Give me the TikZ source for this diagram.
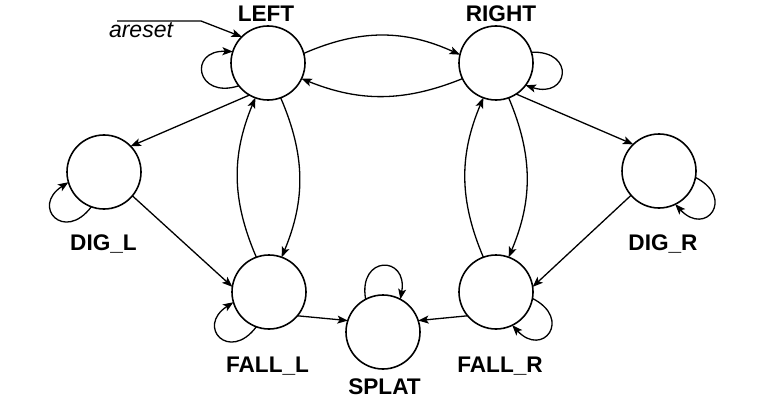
\documentclass[tikz,border=0pt]{standalone}
\usepackage{fontspec}
\setmainfont{Liberation Sans}
\usepackage{tikz}
\usetikzlibrary{arrows.meta}
\tikzset{
  fsmstate/.style={
    draw, circle, line width=0.8pt, minimum size=37pt,
    inner sep=0pt, outer sep=0pt
  },
  fsmarrow/.style={
    -{Stealth[length=5.2pt, width=4pt, inset=1.2pt]}, line width=0.65pt
  },
  fsmlabel/.style={
    font=\fontsize{11.3}{13}\selectfont\bfseries, anchor=base
  },
  fsminput/.style={
    font=\fontsize{11.5}{13}\selectfont\itshape, anchor=base
  },
}

\begin{document}
\begin{tikzpicture}[x=0.5pt, y=0.5pt]
  \useasboundingbox (0,0) rectangle (763,402);

  % ── States ──
  \node[fsmstate] (sLeft)  at (268,339) {};
  \node[fsmstate] (sRight) at (496,339) {};
  \node[fsmstate] (sDigL)  at (104,230) {};
  \node[fsmstate] (sDigR)  at (659,231) {};
  \node[fsmstate] (sFallL) at (269,110) {};
  \node[fsmstate] (sFallR) at (496,110) {};
  \node[fsmstate] (sSplat) at (383,70)  {};

  % ── State names ──
  \node[fsmlabel] (lLeft)  at (266,380)   {LEFT};
  \node[fsmlabel] (lRight) at (501,380)   {RIGHT};
  \node[fsmlabel] (lDigL)  at (103.5,152) {DIG\_L};
  \node[fsmlabel] (lDigR)  at (663,152)   {DIG\_R};
  \node[fsmlabel] (lFallL) at (267.5,30)  {FALL\_L};
  \node[fsmlabel] (lFallR) at (500,30)    {FALL\_R};
  \node[fsmlabel] (lSplat) at (384.5,8)   {SPLAT};

  % ── Reset input ──
  \node[fsminput] (rsText) at (141,364) {areset};
  \coordinate (rsStart) at (117,381);
  \coordinate (rsBend)  at (201,381);
  \draw[fsmarrow] (rsStart) -- (rsBend) -- (sLeft.135);

  % ── Self loops ──
  \draw[fsmarrow] (sLeft.-142)  .. controls +(-162:45) and +(178:45) .. (sLeft.162);
  \draw[fsmarrow] (sRight.17)   .. controls +(2:45)    and +(-18:45) .. (sRight.-37);
  \draw[fsmarrow] (sDigL.-110)  .. controls +(-127:45) and +(-147:45) .. (sDigL.-164);
  \draw[fsmarrow] (sFallL.-110) .. controls +(-127:45) and +(-147:45) .. (sFallL.-164);
  \draw[fsmarrow] (sDigR.-10)   .. controls +(-27:45)  and +(-47:45) .. (sDigR.-64);
  \draw[fsmarrow] (sFallR.-10)  .. controls +(-27:45)  and +(-47:45) .. (sFallR.-64);
  \draw[fsmarrow] (sSplat.118)  .. controls +(100:45)  and +(80:45) .. (sSplat.62);

  % ── Walking ──
  \draw[fsmarrow] (sLeft.15)    to[bend left=24] (sRight.167);
  \draw[fsmarrow] (sRight.-155) to[bend left=22] (sLeft.-25);

  % ── Falling ──
  \draw[fsmarrow] (sFallL.110) to[bend left=23] (sLeft.-110);
  \draw[fsmarrow] (sLeft.-70)  to[bend left=23] (sFallL.70);
  \draw[fsmarrow] (sFallR.110) to[bend left=23] (sRight.-110);
  \draw[fsmarrow] (sRight.-70) to[bend left=23] (sFallR.70);

  % ── Digging ──
  \draw[fsmarrow] (sLeft.-120) -- (sDigL.44);
  \draw[fsmarrow] (sRight.-57) -- (sDigR.134);
  \draw[fsmarrow] (sDigL.-40)  -- (sFallL.172);
  \draw[fsmarrow] (sDigR.-139) -- (sFallR.8);

  % ── Splat ──
  \draw[fsmarrow] (sFallL.-40)  -- (sSplat.162);
  \draw[fsmarrow] (sFallR.-140) -- (sSplat.18);
\end{tikzpicture}
\end{document}
